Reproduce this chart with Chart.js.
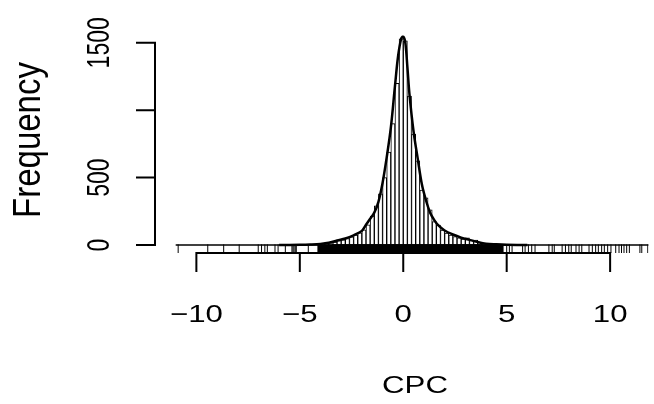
<!DOCTYPE html>
<html>
<head>
<meta charset="utf-8">
<script src="https://cdn.jsdelivr.net/npm/chart.js@4"></script>
<style>
html,body{margin:0;padding:0;background:#fff;overflow:hidden;}
canvas{display:block;}
</style>
</head>
<body>
<canvas id="c" width="654" height="404"></canvas>
<script>
// ---- data ----
const xTicks = [-10, -5, 0, 5, 10];
const xTickLabels = ['\u221210', '\u22125', '0', '5', '10'];
const yTicks = [0, 500, 1000, 1500];
const yTickLabels = ['0', '500', '', '1500'];
const xTitle = 'CPC';
const yTitle = 'Frequency';

// histogram bins (width 0.2): centres and counts
const binCenters = [-4.9,-4.7,-4.5,-4.3,-4.1,-3.9,-3.7,-3.5,-3.3,-3.1,-2.9,-2.7,-2.5,-2.3,-2.1,-1.9,-1.7,-1.5,-1.3,-1.1,-0.9,-0.7,-0.5,-0.3,-0.1,0.1,0.3,0.5,0.7,0.9,1.1,1.3,1.5,1.7,1.9,2.1,2.3,2.5,2.7,2.9,3.1,3.3,3.5,3.7,3.9,4.1,4.3,4.5,4.7,4.9];
const binCounts  = [2,2,3,4,4,5,7,10,22,32,38,48,60,74,90,112,150,215,290,380,500,690,900,1200,1530,1515,1105,823,625,408,350,260,173,148,111,89,74,62,54,44,54,37,37,20,12,8,6,5,4,3];
// range of all (mostly empty) bins drawn at zero
const binRange = [-11.0, 12.4];

// density curve (scaled to frequency)
const curveX = [-6,-5,-4.5,-4,-3.6,-3.2,-2.8,-2.4,-2.0,-1.8,-1.6,-1.4,-1.2,-1.0,-0.8,-0.6,-0.4,-0.25,-0.1,0.0,0.1,0.2,0.3,0.5,0.7,0.9,1.1,1.3,1.5,1.7,2.0,2.4,2.8,3.2,3.6,4.0,4.5,5,6];
const curveY = [0,2,4,8,16,33,48,72,105,150,195,240,320,460,650,870,1180,1400,1530,1545,1500,1320,1120,840,640,450,330,240,185,145,108,78,55,38,22,10,5,2,0];

// rug: sparse individual observations and the dense central block
const rugX = [-10.88,-9.45,-8.68,-7.93,-7.01,-6.85,-6.69,-6.57,-6.2,-6.05,-5.7,-5.38,-5.33,-5.28,-5.22,-5.17,-4.59,
  5.0,5.13,5.26,5.77,5.89,6.05,6.21,6.37,7.04,7.2,7.3,7.68,7.84,8.0,8.12,8.35,8.5,8.63,8.98,9.14,9.3,9.43,
  9.59,9.72,9.88,10.04,10.27,10.43,10.55,10.67,10.8,10.93,11.44,11.53,11.82];
const rugDense = [-4.15, 4.85];
const rugLevel = -30;

// ---- chart ----
const FONT = '"Liberation Sans", Arial, Helvetica, sans-serif';

// draw text; the picture's text is widened horizontally, so sx/sy stretch the glyphs
function drawText(ctx, txt, x, y, size, sx, sy, rot) {
  ctx.save();
  ctx.translate(x, y);
  if (rot) ctx.rotate(rot);
  ctx.scale(sx, sy);
  ctx.font = size + 'px ' + FONT;
  ctx.textAlign = 'center';
  ctx.textBaseline = 'middle';
  ctx.fillText(txt, 0, 0);
  ctx.restore();
}

const rAxes = {
  id: 'rAxes',
  afterDraw(chart) {
    const {ctx, chartArea, scales: {x, y}} = chart;
    ctx.save();
    ctx.strokeStyle = '#000';
    ctx.fillStyle = '#000';
    ctx.lineWidth = 2;
    ctx.lineCap = 'butt';
    const tl = 19;
    // y axis
    const ax = chartArea.left;
    ctx.beginPath();
    ctx.moveTo(ax, y.getPixelForValue(yTicks[0]));
    ctx.lineTo(ax, y.getPixelForValue(yTicks[yTicks.length - 1]));
    yTicks.forEach(v => {
      const p = y.getPixelForValue(v);
      ctx.moveTo(ax + 1, p); ctx.lineTo(ax - tl, p);
    });
    ctx.stroke();
    // x axis
    const ay = chartArea.bottom;
    ctx.beginPath();
    ctx.moveTo(x.getPixelForValue(xTicks[0]), ay);
    ctx.lineTo(x.getPixelForValue(xTicks[xTicks.length - 1]), ay);
    xTicks.forEach(v => {
      const p = x.getPixelForValue(v);
      ctx.moveTo(p, ay - 1); ctx.lineTo(p, ay + tl);
    });
    ctx.stroke();
    // labels
    xTicks.forEach((v, i) => {
      drawText(ctx, xTickLabels[i], x.getPixelForValue(v), ay + 62, 24, 1.3, 1, 0);
    });
    yTicks.forEach((v, i) => {
      if (!yTickLabels[i]) return;
      drawText(ctx, yTickLabels[i], ax - 55, y.getPixelForValue(v), 23, 1, 1.35, -Math.PI / 2);
    });
    drawText(ctx, xTitle, 415, 386, 24, 1.3, 1, 0);
    drawText(ctx, yTitle, 30, 140, 33, 1, 1.15, -Math.PI / 2);
    ctx.restore();
  }
};

new Chart(document.getElementById('c'), {
  type: 'bar',
  data: {
    datasets: [
      {
        type: 'line',
        label: 'density',
        data: curveX.map((v, i) => ({x: v, y: curveY[i]})),
        borderColor: '#000',
        borderWidth: 2.5,
        pointRadius: 0,
        tension: 0.35,
        fill: false,
        order: 0
      },
      {
        type: 'line',
        label: 'rug',
        data: rugX.map(v => ({x: v, y: rugLevel})),
        showLine: false,
        pointStyle: 'line',
        rotation: 90,
        pointRadius: 4.6,
        borderColor: '#000',
        borderWidth: 1,
        order: 1
      },
      {
        type: 'line',
        label: 'rug dense',
        data: rugDense.map(v => ({x: v, y: rugLevel})),
        borderColor: '#000',
        borderWidth: 9,
        borderCapStyle: 'butt',
        pointRadius: 0,
        order: 1
      },
      {
        type: 'line',
        label: 'zero bins',
        data: binRange.map(v => ({x: v, y: 0})),
        borderColor: '#000',
        borderWidth: 1.5,
        pointRadius: 0,
        order: 1
      },
      {
        label: 'CPC',
        data: binCenters.map((v, i) => ({x: v, y: binCounts[i]})),
        backgroundColor: '#fff',
        borderColor: '#000',
        borderWidth: 1,
        borderSkipped: false,
        barPercentage: 1,
        categoryPercentage: 1,
        order: 2
      }
    ]
  },
  options: {
    responsive: false,
    animation: false,
    devicePixelRatio: 1,
    layout: {padding: {left: 155, right: 0, top: 29, bottom: 151}},
    plugins: {legend: {display: false}, tooltip: {enabled: false}},
    scales: {
      x: {type: 'linear', display: false, min: -12.0, max: 11.85, offset: false},
      y: {type: 'linear', display: false, min: -59.35, max: 1602.4}
    }
  },
  plugins: [rAxes]
});
</script>
</body>
</html>
